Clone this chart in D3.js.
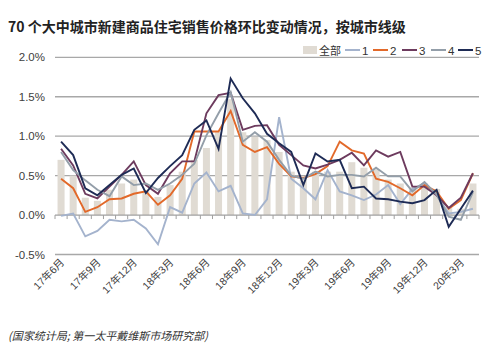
<!DOCTYPE html>
<html>
<head>
<meta charset="utf-8">
<script src="https://cdn.jsdelivr.net/npm/d3@7"></script>
<style>
  body { margin: 0; background: #fff; }
  svg { display: block; font-family: "Liberation Sans", Arial, "Noto Sans CJK SC", sans-serif; }
</style>
</head>
<body>
<div id="chart"></div>
<script>
// months on the category axis
const months = ["17年6月","17年7月","17年8月","17年9月","17年10月","17年11月","17年12月",
    "18年1月","18年2月","18年3月","18年4月","18年5月","18年6月","18年7月","18年8月","18年9月","18年10月","18年11月","18年12月",
    "19年1月","19年2月","19年3月","19年4月","19年5月","19年6月","19年7月","19年8月","19年9月","19年10月","19年11月","19年12月",
    "20年1月","20年2月","20年3月","20年4月"];
const tickLabels = ["17年6月","17年9月","17年12月","18年3月","18年6月","18年9月","18年12月",
    "19年3月","19年6月","19年9月","19年12月","20年3月"];

// month-on-month change, %
const allCities = [0.7,0.5,0.22,0.18,0.32,0.4,0.45,0.3,0.23,0.38,0.55,0.7,0.85,1.05,1.47,1.05,0.99,0.95,0.8,0.55,0.45,0.55,0.55,0.55,0.67,0.6,0.58,0.45,0.4,0.35,0.4,0.33,0.1,0.08,0.4];
const tier1 = [-0.01,0.02,-0.27,-0.2,-0.06,-0.08,-0.06,-0.17,-0.37,0.1,0.03,0.4,0.54,0.3,0.37,0.02,0.0,0.2,1.24,0.46,0.34,0.2,0.57,0.3,0.25,0.19,0.26,0.38,0.14,0.33,0.4,0.25,0.02,0.04,0.08];
const tier2 = [0.46,0.34,0.04,0.1,0.2,0.21,0.27,0.3,0.13,0.25,0.46,1.06,1.06,1.06,1.32,0.89,0.8,0.86,0.65,0.49,0.47,0.52,0.62,0.93,0.82,0.78,0.46,0.42,0.34,0.25,0.38,0.3,0.08,0.19,0.53];
const tier3 = [0.84,0.63,0.27,0.21,0.36,0.51,0.68,0.38,0.27,0.53,0.68,0.68,1.29,1.52,1.55,1.08,1.13,1.14,0.89,0.76,0.63,0.59,0.64,0.7,0.79,0.63,0.82,0.74,0.8,0.36,0.36,0.25,0.09,0.22,0.53];
const tier4 = [0.8,0.57,0.44,0.32,0.24,0.49,0.38,0.4,0.32,0.4,0.51,0.65,1.01,1.29,1.56,0.93,1.05,0.93,0.7,0.5,0.46,0.55,0.49,0.51,0.51,0.49,0.6,0.49,0.49,0.3,0.42,0.26,-0.02,-0.06,0.29];
const tier5 = [0.93,0.76,0.34,0.25,0.38,0.51,0.59,0.28,0.47,0.62,0.76,1.08,1.2,0.84,1.73,1.48,1.29,1.03,0.91,0.8,0.38,0.78,0.68,0.7,0.34,0.36,0.21,0.2,0.17,0.15,0.19,0.32,-0.15,0.08,0.31];

const seriesNames = ["1","2","3","4","5"];
const yTicks = [-0.5, 0, 0.5, 1.0, 1.5, 2.0];

document.addEventListener("DOMContentLoaded", function(){
    const width = 500, height = 354;
    const plot = {left: 55, right: 479, top: 57.3, bottom: 254.5};

    const colors = {bar: "#e0dbd3", "1": "#a4b3cd", "2": "#e2692a", "3": "#6d3b5e", "4": "#939ea9", "5": "#1e2b55"};
    const lines = {"1": tier1, "2": tier2, "3": tier3, "4": tier4, "5": tier5};

    const svg = d3.select("#chart").append("svg")
        .attr("width", width)
        .attr("height", height);

    const x = d3.scaleBand().domain(months).range([plot.left, plot.right]).padding(0);
    const y = d3.scaleLinear().domain([-0.5, 2.0]).range([plot.bottom, plot.top]);
    const cx = d => x(d) + x.bandwidth() / 2;

    // title
    svg.append("text")
        .attr("x", 8).attr("y", 32)
        .attr("font-size", 14).attr("font-weight", "bold")
        .attr("font-family", "'Noto Sans CJK SC', sans-serif")
        .attr("fill", "#222")
        .text("70 个大中城市新建商品住宅销售价格环比变动情况，按城市线级");

    // gridlines (the zero line is the axis, drawn later)
    svg.append("g").selectAll("line")
        .data(yTicks.filter(t => t !== 0))
        .join("line")
        .attr("x1", plot.left).attr("x2", plot.right)
        .attr("y1", d => y(d)).attr("y2", d => y(d))
        .attr("stroke", "#a8a8a8").attr("stroke-width", 1.3);

    // y labels
    svg.append("g").selectAll("text")
        .data(yTicks)
        .join("text")
        .attr("x", 45).attr("y", d => y(d) + 4)
        .attr("text-anchor", "end")
        .attr("font-size", 11.5).attr("fill", "#404040")
        .text(d => d.toFixed(1) + "%");

    // bars: all 70 cities
    const barW = x.bandwidth() * 0.58;
    svg.append("g").selectAll("rect")
        .data(months)
        .join("rect")
        .attr("x", (d) => cx(d) - barW / 2)
        .attr("width", barW)
        .attr("y", (d, i) => Math.min(y(allCities[i]), y(0)))
        .attr("height", (d, i) => Math.abs(y(allCities[i]) - y(0)))
        .attr("fill", colors.bar);

    // zero axis with tick marks at category boundaries
    const axis = svg.append("g");
    axis.append("line")
        .attr("x1", plot.left).attr("x2", plot.right)
        .attr("y1", y(0)).attr("y2", y(0))
        .attr("stroke", "#a0a0a0").attr("stroke-width", 1.3);
    axis.selectAll(".tk")
        .data(months.concat(["end"]))
        .join("line")
        .attr("class", "tk")
        .attr("x1", (d, i) => plot.left + i * x.bandwidth())
        .attr("x2", (d, i) => plot.left + i * x.bandwidth())
        .attr("y1", y(0)).attr("y2", y(0) + 4)
        .attr("stroke", "#a0a0a0").attr("stroke-width", 1);

    // category labels at the bottom
    svg.append("g").selectAll("text")
        .data(tickLabels)
        .join("text")
        .attr("transform", d => `translate(${cx(d) + 4}, 263) rotate(-45)`)
        .attr("text-anchor", "end")
        .attr("font-size", 10.5).attr("fill", "#404040")
        .text(d => d);

    // tier lines
    seriesNames.forEach(name => {
        const vals = lines[name];
        const line = d3.line()
            .x((d, i) => cx(months[i]))
            .y(d => y(d));
        svg.append("path")
            .datum(vals)
            .attr("d", line)
            .attr("fill", "none")
            .attr("stroke", colors[name])
            .attr("stroke-width", 1.9)
            .attr("stroke-linejoin", "miter");
    });

    // legend
    const lg = svg.append("g").attr("font-size", 11.5).attr("fill", "#333");
    lg.append("rect").attr("x", 303).attr("y", 46).attr("width", 14).attr("height", 8).attr("fill", colors.bar);
    lg.append("text").attr("x", 319).attr("y", 54.5)
        .attr("font-family", "'Noto Sans CJK SC', sans-serif").attr("font-size", 11)
        .attr("fill", "#333").text("全部");
    const legendX = [345, 373, 402, 431, 458];
    seriesNames.forEach((name, i) => {
        lg.append("line")
            .attr("x1", legendX[i]).attr("x2", legendX[i] + 15)
            .attr("y1", 50).attr("y2", 50)
            .attr("stroke", colors[name]).attr("stroke-width", 2);
        lg.append("text")
            .attr("x", legendX[i] + 17).attr("y", 54.5)
            .attr("fill", "#333")
            .text(name);
    });

    // source note
    svg.append("text")
        .attr("x", 8).attr("y", 340)
        .attr("font-size", 11).attr("font-style", "italic")
        .attr("font-family", "'Noto Sans CJK SC', sans-serif")
        .attr("fill", "#333")
        .text("(国家统计局; 第一太平戴维斯市场研究部)");
});
</script>
</body>
</html>
